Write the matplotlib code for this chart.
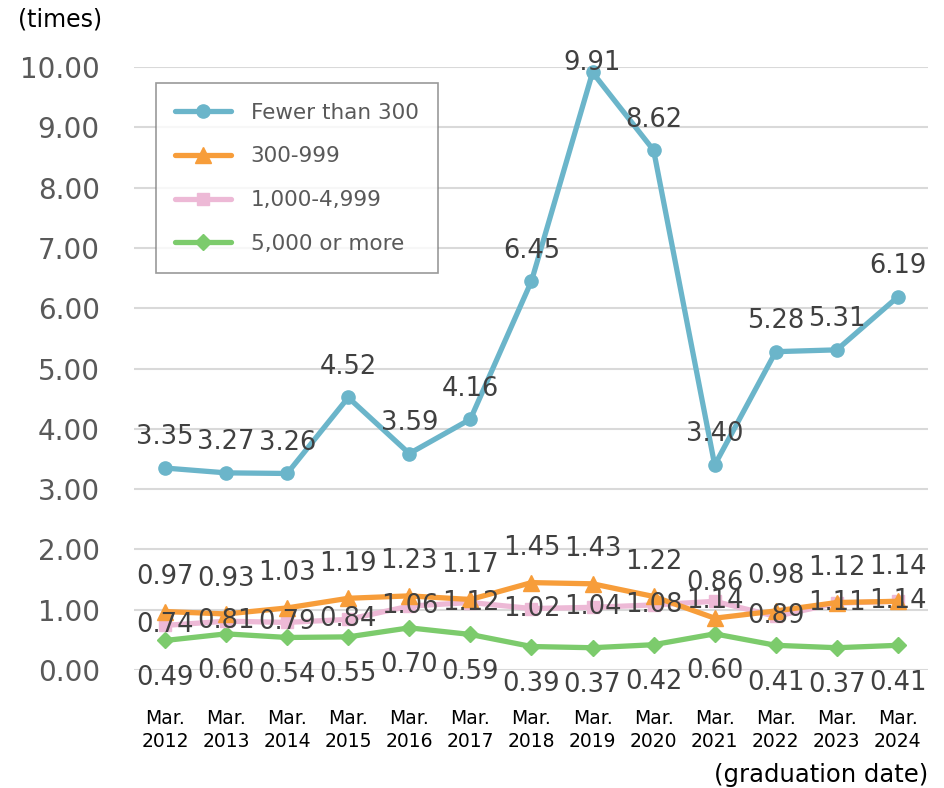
import matplotlib
matplotlib.use("Agg")
import matplotlib.pyplot as plt
import numpy as np

# Job-offer ratio by company size, March graduates
years = ["2012", "2013", "2014", "2015", "2016", "2017", "2018",
         "2019", "2020", "2021", "2022", "2023", "2024"]
fewer_300 = [3.35, 3.27, 3.26, 4.52, 3.59, 4.16, 6.45, 9.91, 8.62, 3.40, 5.28, 5.31, 6.19]
mid_300_999 = [0.97, 0.93, 1.03, 1.19, 1.23, 1.17, 1.45, 1.43, 1.22, 0.86, 0.98, 1.12, 1.14]
mid_1000_4999 = [0.74, 0.81, 0.79, 0.84, 1.06, 1.12, 1.02, 1.04, 1.08, 1.14, 0.89, 1.11, 1.14]
over_5000 = [0.49, 0.60, 0.54, 0.55, 0.70, 0.59, 0.39, 0.37, 0.42, 0.60, 0.41, 0.37, 0.41]
series_names = ["Fewer than 300", "300-999", "1,000-4,999", "5,000 or more"]
y_ticks = np.arange(0, 11, 1)

plt.rcParams['font.family'] = ['DejaVu Sans']
label_color = '#404040'

fig = plt.figure(figsize=(9.45, 7.88), dpi=100)
ax = fig.add_axes([0.1423, 0.1497, 0.8402, 0.7652])

x = np.arange(len(years))

styles = [
    (fewer_300, '#6BB5CA', 'o', 9.5),
    (mid_300_999, '#F79D3A', '^', 11),
    (mid_1000_4999, '#EDB9D6', 's', 9),
    (over_5000, '#7CCB6C', 'D', 8.5),
]

for i, (vals, color, marker, ms) in enumerate(styles):
    ax.plot(x, vals, color=color, lw=3.8, marker=marker, ms=ms,
            markeredgecolor=color, label=series_names[i],
            zorder=5 - i, clip_on=False, solid_capstyle='round')

# data labels: offsets in points (dx, dy) per series
label_offsets = [(0, 22), (0, 25), (0, 0), (0, -27)]
special = {(0, 7): (0, 7)}
fs_lab = 18.5
for s, (vals, _, _, _) in enumerate(styles):
    for i, v in enumerate(vals):
        dx, dy = special.get((s, i), label_offsets[s])
        ax.annotate(f"{v:.2f}", (x[i], v), xytext=(dx, dy), textcoords='offset points',
                    ha='center', va='center', fontsize=fs_lab, color=label_color,
                    zorder=10, annotation_clip=False)

ax.set_xlim(-0.5, len(years) - 0.5)
ax.set_ylim(0, 10)
ax.set_yticks(y_ticks)
ax.set_yticklabels([f"{t:.2f}" for t in y_ticks], fontsize=20, color='#595959')
ax.set_xticks(x)
ax.set_xticklabels([f"Mar.\n{y}" for y in years], fontsize=13.5, color='black',
                   linespacing=1.25)
ax.tick_params(axis='y', length=0, pad=25)
ax.tick_params(axis='x', length=0, pad=28)

ax.grid(axis='y', color='#D9D9D9', lw=1.5)
ax.set_axisbelow(True)
for sp in ax.spines.values():
    sp.set_visible(False)

leg = ax.legend(loc='upper left', bbox_to_anchor=(0.027, 0.973), borderaxespad=0,
                fontsize=15.5, frameon=True, fancybox=False, edgecolor='#808080',
                handlelength=2.6, handletextpad=0.9, labelspacing=1.1,
                borderpad=0.9, labelcolor='#595959')
leg.get_frame().set_linewidth(1.2)

fig.text(18 / 945, 1 - 20 / 788, "(times)", fontsize=17, va='center', ha='left')
fig.text(928 / 945, 1 - 775 / 788, "(graduation date)", fontsize=17.5, va='center', ha='right')

fig.savefig("out.png", dpi=100)
